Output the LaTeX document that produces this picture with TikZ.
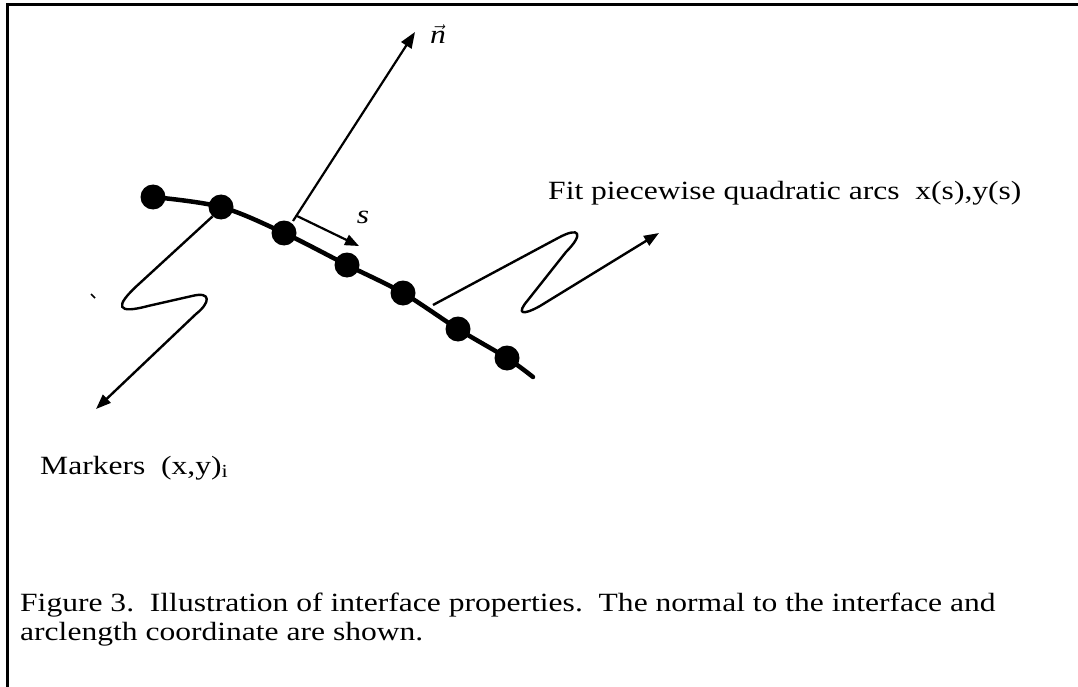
\documentclass[tikz,border=0pt]{standalone}
\usepackage{fontspec}
\setmainfont{Liberation Serif}[FakeStretch=1.2]
\usetikzlibrary{arrows.meta}
\begin{document}
\begin{tikzpicture}[x=1pt,y=-1pt,
  txt/.style={font=\fontsize{26.3}{29}\selectfont, inner sep=0pt},
  marker/.style={circle, fill=black, minimum size=25pt, inner sep=0pt},
  curveline/.style={line width=4.5pt, line cap=round},
  thinarrow/.style={line width=2.2pt, -{Triangle[length=16pt,width=12pt]}},
  wiggle/.style={line width=2.4pt, -{Triangle[length=15pt,width=11pt]}},
  framestyle/.style={line width=3pt}]
\useasboundingbox (0,0) rectangle (1078,687);
% frame
\coordinate (fr1) at (1078,5);
\coordinate (fr2) at (7,5);
\coordinate (fr3) at (7,687);
\draw[framestyle] (fr1) -- (fr2) -- (fr3);
% interface curve
\coordinate (cend) at (533,377);
\node[marker] (m1) at (153,197) {};
\node[marker] (m2) at (221,207) {};
\node[marker] (m3) at (284,233) {};
\node[marker] (m4) at (347,265) {};
\node[marker] (m5) at (403,293) {};
\node[marker] (m6) at (458,329) {};
\node[marker] (m7) at (507,358) {};
\draw[curveline] plot[smooth, tension=0.55] coordinates {(m1) (m2) (m3) (m4) (m5) (m6) (m7) (cend)};
% normal
\coordinate (nb) at (293,221);
\coordinate (nt) at (415,32);
\draw[thinarrow] (nb) -- (nt);
\node[txt] (nlab) at (438,34) {$\vec{\mbox{\itshape n}}$};
% arclength
\coordinate (sb) at (297,216);
\coordinate (st) at (359,246);
\draw[thinarrow, -{Triangle[length=14pt,width=11pt]}] (sb) -- (st);
\node[txt, font=\fontsize{26.3}{29}\selectfont\itshape] (slab) at (363,217) {s};
% left zigzag
\coordinate (lzend) at (96,409);
\draw[wiggle] (m2.228) -- (140,283) .. controls (112,308) and (118,314) .. (148,306)
  -- (192,296) .. controls (212,291) and (210,303) .. (196,314) -- (lzend);
\coordinate (str1) at (91,294);
\coordinate (str2) at (95,298);
\draw[line width=1.5pt] (str1) -- (str2);
% right zigzag
\coordinate (rz0) at (433,305);
\coordinate (rzend) at (659,233);
\draw[wiggle] (rz0) -- (558,238) .. controls (580,226) and (584,234) .. (566,252)
  -- (528,300) .. controls (516,314) and (522,316) .. (540,306) -- (rzend);
% labels
\node[txt, anchor=base west] (fitlab) at (548,200) {Fit piecewise quadratic arcs\ \ x(s),y(s)};
\node[txt, anchor=base west] (mklab) at (40,474) {Markers\ \ (x,y)\textsubscript{i}};
\node[txt, anchor=base west, align=left] (cap) at (20,640) {Figure 3.\ \ Illustration of interface properties.\ \ The normal to the interface and\\arclength coordinate are shown.};
\end{tikzpicture}
\end{document}
